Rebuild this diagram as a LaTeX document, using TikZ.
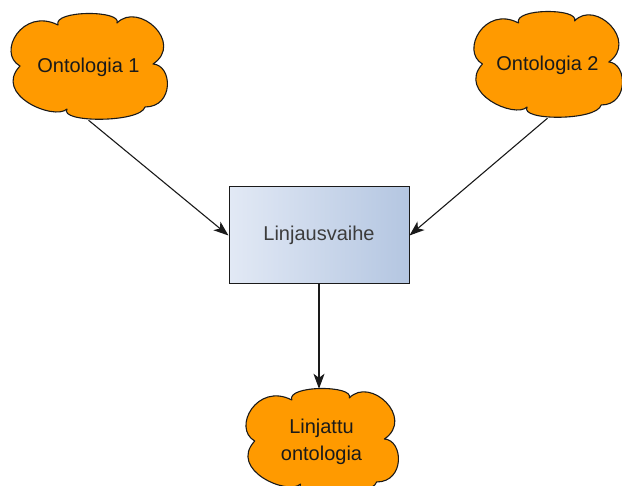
\documentclass[tikz,border=0pt]{standalone}
\usepackage{fontspec}
\setmainfont{Liberation Sans}
\usetikzlibrary{arrows.meta,backgrounds}
\definecolor{cloudfill}{HTML}{FF9A00}
\definecolor{boxlight}{HTML}{E2E9F5}
\definecolor{boxdark}{HTML}{B4C6E1}
\definecolor{ink}{HTML}{1A1A1A}
\begin{document}
\begin{tikzpicture}[x=1pt,y=-1pt,
  cloudbody/.style={draw=ink, line width=1.1pt, fill=cloudfill, line join=round},
  cloudtext/.style={rectangle, inner sep=0pt, minimum width=157pt, minimum height=106pt,
    font=\fontsize{20}{27}\selectfont, text=ink, align=center},
  stagebox/.style={rectangle, draw=ink, line width=1pt,
    left color=boxlight, right color=boxdark,
    minimum width=180pt, minimum height=97pt, inner sep=0pt,
    font=\fontsize{20}{24}\selectfont, text=ink!85},
  flow/.style={draw=ink, line width=1.1pt,
    -{Stealth[length=15pt,width=11pt,inset=4pt]}},
  pics/cloudshape/.style={code={
    \path[cloudbody] (-68.5,-1)
      .. controls (-92,-14) and (-66,-60) .. (-30.5,-42)
      .. controls (-36,-57) and (34,-57) .. (28.5,-44)
      .. controls (50,-66) and (96,-24) .. (64.5,-3)
      .. controls (84,-2) and (86,40) .. (56.5,40)
      .. controls (52,56) and (-30,56) .. (-21.5,42)
      .. controls (-34,54) and (-96,28) .. (-68.5,-1) -- cycle;
  }}]
\useasboundingbox (0,0) rectangle (622,486);

% source ontologies
\node[cloudtext] (onto1) at (88.5,67) {Ontologia 1};
\node[cloudtext, minimum width=149pt] (onto2) at (547.5,65) {Ontologia 2};

% alignment stage
\node[stagebox] (align) at (319,235.5) {Linjausvaihe};

% resulting ontology
\node[cloudtext, minimum width=153pt] (result) at (321.5,442) {Linjattu\\ontologia};

% cloud outlines behind the labels
\begin{scope}[on background layer]
  \fill[white] (0,0) rectangle (622,486);
  \pic at (onto1.center) {cloudshape};
  \pic[xscale=0.95] at (onto2.center) {cloudshape};
  \pic[xscale=0.975] at (result.center) {cloudshape};
\end{scope}

% connectors
\draw[flow] (onto1.south) -- (align.west);
\draw[flow] (onto2.south) -- (align.east);
\draw[flow] (align.south) -- (align.south |- result.north);
\end{tikzpicture}
\end{document}
